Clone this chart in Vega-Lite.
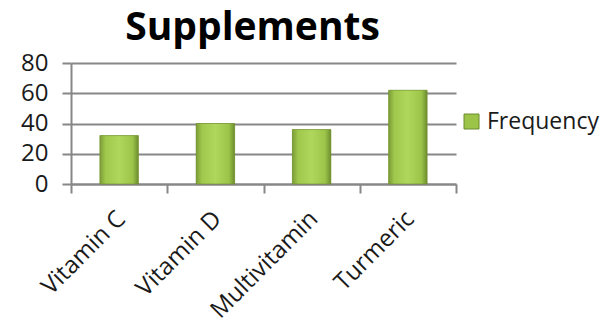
{
  "$schema": "https://vega.github.io/schema/vega-lite/v6.json",
  "width": 385,
  "height": 121,
  "autosize": {"type": "none"},
  "padding": {"left": 71, "top": 63, "right": 159, "bottom": 140},
  "background": "white",
  "title": {
    "text": "Supplements",
    "font": "Open Sans",
    "fontSize": 39,
    "fontWeight": "bold",
    "color": "#000000",
    "anchor": "middle",
    "dx": -11,
    "offset": 3
  },
  "data": {
    "values": [
      {"supplement": "Vitamin C", "frequency": 32, "series": "Frequency"},
      {"supplement": "Vitamin D", "frequency": 40, "series": "Frequency"},
      {"supplement": "Multivitamin", "frequency": 36, "series": "Frequency"},
      {"supplement": "Turmeric", "frequency": 62, "series": "Frequency"}
    ]
  },
  "encoding": {
    "x": {
      "field": "supplement",
      "type": "nominal",
      "sort": null,
      "scale": {"paddingInner": 0, "paddingOuter": 0},
      "axis": {
        "title": null,
        "grid": false,
        "tickBand": "extent",
        "ticks": true,
        "tickSize": 9,
        "tickColor": "#878787",
        "tickWidth": 2,
        "domainColor": "#878787",
        "domainWidth": 2,
        "labelAngle": -45,
        "labelAlign": "right",
        "labelBaseline": "middle",
        "labelFont": "Open Sans",
        "labelFontSize": 24,
        "labelColor": "#1a1a1a",
        "labelPadding": 22,
        "labelOffset": 2
      }
    },
    "y": {
      "field": "frequency",
      "type": "quantitative",
      "scale": {"domain": [0, 80]},
      "axis": {
        "title": null,
        "values": [0, 20, 40, 60, 80],
        "grid": true,
        "gridColor": "#878787",
        "gridWidth": 2,
        "tickSize": 9,
        "tickColor": "#878787",
        "tickWidth": 2,
        "domainColor": "#878787",
        "domainWidth": 2,
        "labelFont": "Open Sans",
        "labelFontSize": 24,
        "labelColor": "#1a1a1a",
        "labelPadding": 14
      }
    }
  },
  "layer": [
    {
      "mark": {"type": "bar", "width": {"band": 0.4}},
      "encoding": {
        "color": {
          "field": "series",
          "type": "nominal",
          "scale": {"range": ["#9cc449"]},
          "legend": {
            "title": null,
            "orient": "none",
            "legendX": 389,
            "legendY": 47,
            "padding": 0,
            "symbolType": "square",
            "symbolSize": 225,
            "symbolStrokeColor": "#6b8a2c",
            "symbolStrokeWidth": 1,
            "symbolOpacity": 1,
            "labelFont": "Open Sans",
            "labelFontSize": 23,
            "labelColor": "#1a1a1a",
            "labelOffset": 4
          }
        }
      }
    },
    {
      "mark": {
        "type": "bar",
        "width": {"band": 0.4},
        "stroke": "#6b8a2c",
        "strokeWidth": 0.6,
        "fill": {
          "gradient": "linear",
          "x1": 0, "y1": 0, "x2": 1, "y2": 0,
          "stops": [
            {"offset": 0, "color": "#7c9c38"},
            {"offset": 0.15, "color": "#a0c84c"},
            {"offset": 0.5, "color": "#afd75b"},
            {"offset": 0.85, "color": "#9cc449"},
            {"offset": 1, "color": "#6e8d2f"}
          ]
        }
      }
    }
  ],
  "config": {"view": {"stroke": null}}
}
